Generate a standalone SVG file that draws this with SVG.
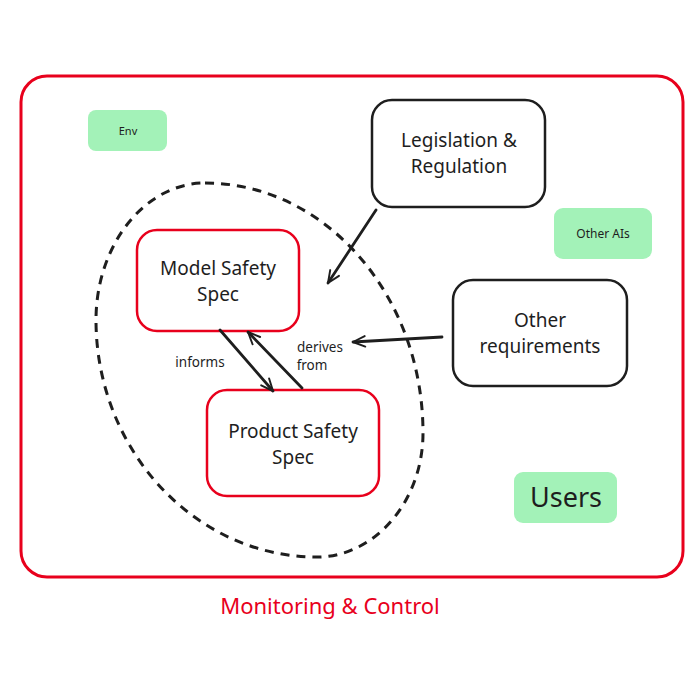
<svg xmlns="http://www.w3.org/2000/svg" width="700" height="700" viewBox="0 0 700 700">
<style>
text{font-family:"Noto Sans","Liberation Sans",sans-serif;text-anchor:middle;fill:#1e1e1e}
.red{fill:#fff;stroke:#e8001c;stroke-width:2.5}
.blk{fill:#fff;stroke:#1e1e1e;stroke-width:2.5}
.grn{fill:#a3f2b8;stroke:none}
.con{fill:none;stroke:#1e1e1e;stroke-width:2.8;stroke-linecap:round}
.lbl{font-size:19px}
.small{font-size:13.5px}
</style>
<defs>
<marker id="ah" viewBox="0 0 20 20" refX="18" refY="10" markerWidth="15" markerHeight="15" markerUnits="userSpaceOnUse" orient="auto">
<path d="M2 3 L18 10 L2 17" fill="none" stroke="#1e1e1e" stroke-width="2.6" stroke-linecap="round" stroke-linejoin="round"/>
</marker>
</defs>
<rect width="700" height="700" fill="#fff"/>
<g id="monitoring">
<rect x="21" y="76" width="662" height="501" rx="26" fill="none" stroke="#e8001c" stroke-width="3"/>
<text x="330" y="614" style="font-size:22px;fill:#e8001c">Monitoring &amp; Control</text>
</g>
<g id="scope">
<path d="M205 183 C325 183 423 295 423 433 C423 501 375 557 317 557 C195 557 96 450 96 320 C96 245 145 183 205 183 Z" fill="none" stroke="#1e1e1e" stroke-width="3" stroke-dasharray="9 7"/>
</g>
<g id="env">
<rect class="grn" x="88" y="110" width="79" height="41" rx="8"/>
<text x="128" y="135" style="font-size:11px">Env</text>
</g>
<g id="otherais">
<rect class="grn" x="554" y="208" width="98" height="51" rx="9"/>
<text x="603" y="238" style="font-size:12px">Other AIs</text>
</g>
<g id="users">
<rect class="grn" x="514" y="472" width="103" height="51" rx="9"/>
<text x="566" y="507" style="font-size:27px">Users</text>
</g>
<g id="legislation">
<rect class="blk" x="372" y="100" width="173" height="107" rx="20"/>
<text class="lbl" x="459" y="147">Legislation &amp;</text>
<text class="lbl" x="459" y="173">Regulation</text>
</g>
<g id="otherreq">
<rect class="blk" x="453" y="280" width="174" height="106" rx="20"/>
<text class="lbl" x="540" y="327">Other</text>
<text class="lbl" x="540" y="353">requirements</text>
</g>
<g id="modelspec">
<rect class="red" x="137" y="230" width="162" height="101" rx="20"/>
<text class="lbl" x="218" y="275">Model Safety</text>
<text class="lbl" x="218" y="301">Spec</text>
</g>
<g id="productspec">
<rect class="red" x="207" y="390" width="172" height="106" rx="20"/>
<text class="lbl" x="293" y="438">Product Safety</text>
<text class="lbl" x="293" y="464">Spec</text>
</g>
<g id="connectors">
<line class="con" x1="376" y1="210" x2="328" y2="283" marker-end="url(#ah)"/>
<line class="con" x1="442" y1="337" x2="353" y2="342" marker-end="url(#ah)"/>
<line class="con" x1="220" y1="330" x2="273" y2="391" marker-end="url(#ah)"/>
<line class="con" x1="302" y1="388" x2="248" y2="332" marker-end="url(#ah)"/>
<text class="small" x="200" y="367">informs</text>
<text class="small" x="320" y="352">derives</text>
<text class="small" x="312" y="370">from</text>
</g>
</svg>
